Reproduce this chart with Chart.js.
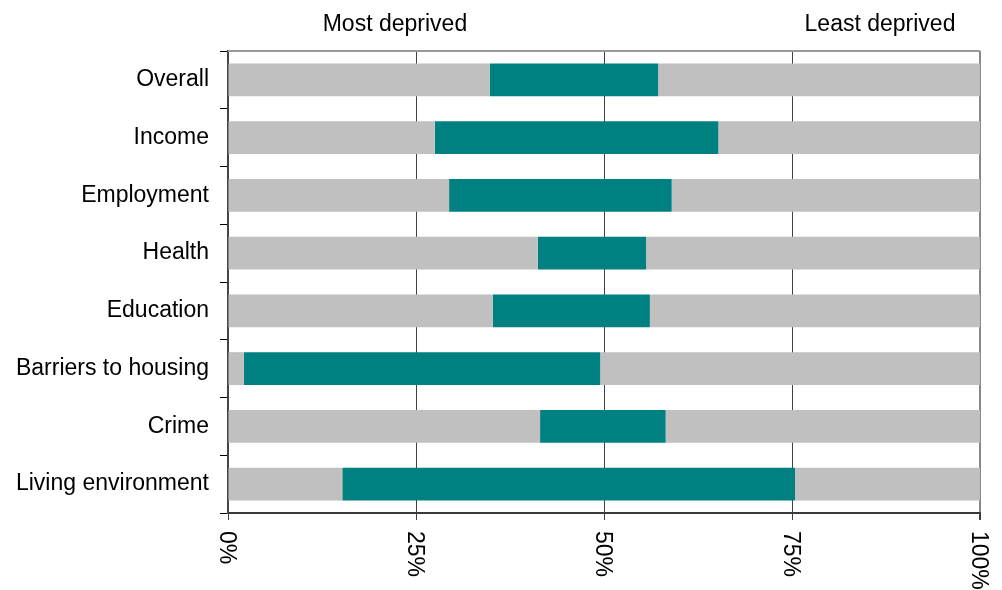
<!DOCTYPE html>
<html>
<head>
<meta charset="utf-8">
<title>Deprivation ranks</title>
<script src="https://cdn.jsdelivr.net/npm/chart.js@4/dist/chart.umd.min.js"></script>
<style>
  body { margin: 0; background: #fff; }
  #wrap { width: 1002px; height: 590px; }
</style>
</head>
<body>
<div id="wrap"><canvas id="chart" width="1002" height="590"></canvas></div>
<script>
'use strict';
// data (percent of the range)
var categories = ['Overall', 'Income', 'Employment', 'Health', 'Education', 'Barriers to housing', 'Crime', 'Living environment'];
var lowValues = [34.8, 27.5, 29.4, 41.2, 35.2, 2.1, 41.5, 15.2];
var rangeValues = [22.4, 37.7, 29.6, 14.4, 20.9, 47.4, 16.7, 60.2];
var highValues = [42.8, 34.8, 41.0, 44.4, 43.9, 50.5, 41.8, 24.6];
var tickValues = [0, 25, 50, 75, 100];
var tickLabels = ['0%', '25%', '50%', '75%', '100%'];
var topLabels = ['Most deprived', 'Least deprived'];

var font = "'Liberation Sans', Arial, sans-serif";

// x labels turned clockwise plus the two headings
var extraText = {
  id: 'extraText',
  afterDraw: function(chart) {
    var ctx = chart.ctx;
    var area = chart.chartArea;
    var xScale = chart.scales.x;
    ctx.save();
    // top frame line
    ctx.strokeStyle = '#999';
    ctx.lineWidth = 2;
    ctx.beginPath();
    ctx.moveTo(area.left, area.top);
    ctx.lineTo(area.right, area.top);
    ctx.stroke();
    ctx.fillStyle = '#000';
    ctx.font = '23px ' + font;
    ctx.textAlign = 'center';
    ctx.textBaseline = 'alphabetic';
    ctx.fillText(topLabels[0], area.left + 0.222 * (area.right - area.left), 31);
    ctx.fillText(topLabels[1], area.left + 0.867 * (area.right - area.left), 31);
    for (var i = 0; i < tickValues.length; i++) {
      var x = xScale.getPixelForValue(tickValues[i]);
      ctx.save();
      ctx.translate(x - 2, area.bottom + 18);
      ctx.rotate(Math.PI / 2);
      ctx.textAlign = 'left';
      ctx.textBaseline = 'middle';
      ctx.fillText(tickLabels[i], 0, 0);
      ctx.restore();
    }
    ctx.restore();
  }
};

var ctx = document.getElementById('chart').getContext('2d');
new Chart(ctx, {
  type: 'bar',
  data: {
    labels: categories,
    datasets: [
      { label: 'low', data: lowValues, backgroundColor: '#C0C0C0' },
      { label: 'range', data: rangeValues, backgroundColor: '#008080' },
      { label: 'high', data: highValues, backgroundColor: '#C0C0C0' }
    ]
  },
  options: {
    indexAxis: 'y',
    responsive: false,
    animation: false,
    barPercentage: 0.57,
    categoryPercentage: 1,
    layout: { padding: { top: 51, right: 22, left: 0, bottom: 0 } },
    plugins: { legend: { display: false }, tooltip: { enabled: false } },
    scales: {
      x: {
        stacked: true,
        min: 0,
        max: 100,
        ticks: { display: false, stepSize: 25 },
        grid: {
          color: function(c) { return c.tick && c.tick.value === 100 ? '#888' : '#404040'; },
          lineWidth: function(c) { return c.tick && c.tick.value === 100 ? 2 : 1; },
          tickLength: 7,
          tickColor: '#404040'
        },
        border: { color: '#3a3a3a', width: 2 },
        afterFit: function(scale) { scale.height = 77; }
      },
      y: {
        stacked: true,
        ticks: { color: '#000', font: { family: font, size: 23 }, padding: 11 },
        grid: { offset: true, drawOnChartArea: false, tickLength: 8, color: '#000' },
        border: { color: '#444', width: 2 },
        afterFit: function(scale) { scale.width = 228; }
      }
    }
  },
  plugins: [extraText]
});
</script>
</body>
</html>
